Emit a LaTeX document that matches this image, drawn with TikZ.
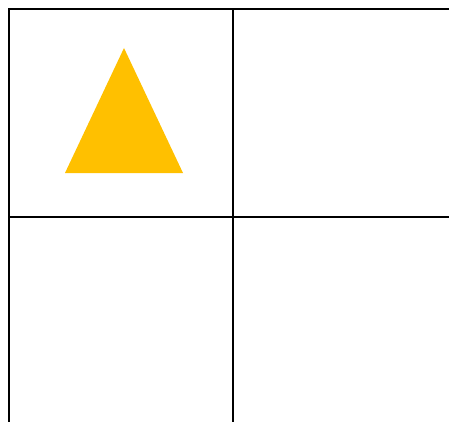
\documentclass[tikz,border=0pt]{standalone}
\usepackage{tikz}

\definecolor{amber}{HTML}{FFC000}

\tikzset{
    gridline/.style={draw=black, line width=2pt},
    shapefill/.style={fill=amber, draw=none}
}

\begin{document}
\begin{tikzpicture}[x=1pt, y=-1pt]

        \useasboundingbox (0,0) rectangle (449,422);
        \clip (0,0) rectangle (449,422);

        % Define the cells

        \draw[gridline] (9,9) rectangle (233,217);

        \draw[gridline] (233,9) rectangle (460,217);

        \draw[gridline] (9,217) rectangle (233,430);

        \draw[gridline] (233,217) rectangle (460,430);

        % Triangle in the first cell

        \coordinate (apex) at (124,48);
        \coordinate (left) at (65,173);
        \coordinate (right) at (183,173);

        \fill[shapefill] (apex) -- (right) -- (left) -- cycle;

    \end{tikzpicture}
\end{document}
